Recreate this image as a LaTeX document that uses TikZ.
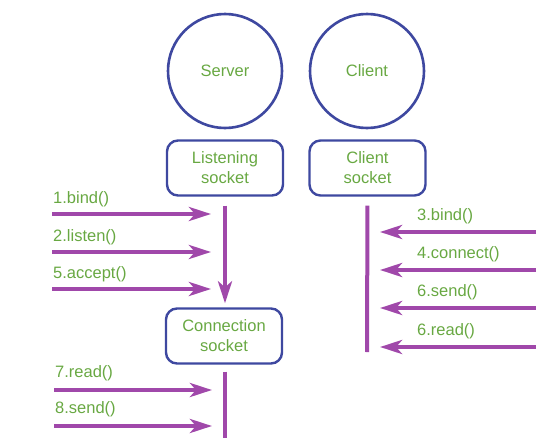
\documentclass[tikz,border=0pt]{standalone}
\usepackage{fontspec}
\setmainfont{Liberation Sans}
\usetikzlibrary{arrows.meta, positioning}

\definecolor{edgeblue}{RGB}{62,72,160}
\definecolor{txtgreen}{RGB}{104,168,66}
\definecolor{callpurple}{RGB}{160,72,170}

\tikzset{
	host/.style={circle, draw=edgeblue, line width=2.6pt, minimum size=114pt, text=txtgreen, font=\fontsize{16.5}{19}\selectfont},
	sockbox/.style={draw=edgeblue, line width=2.4pt, rounded corners=11pt, minimum width=116pt, minimum height=55pt, align=center, text=txtgreen, font=\fontsize{16.5}{20}\selectfont},
	call/.style={-{Stealth[length=22pt, width=14pt, inset=6pt]}, line width=4pt, callpurple},
	lifeline/.style={line width=4pt, callpurple},
	calltext/.style={anchor=west, inner sep=0pt, text=txtgreen, font=\fontsize{16.5}{19}\selectfont}
}

\begin{document}
\begin{tikzpicture}[x=1pt, y=-1pt]
	\useasboundingbox (0,0) rectangle (552,442);

	% Hosts and sockets
	\node[host] (server) at (225,71) {Server};
	\node[host] (client) at (367,71) {Client};
	\node[sockbox] (lsock) at (225,168) {Listening\\socket};
	\node[sockbox] (csock) at (367.5,168) {Client\\socket};
	\node[sockbox] (consock) at (224,336) {Connection\\socket};

	% Lifelines
	\coordinate (cend) at (367,352);
	\coordinate (bend) at (225,438);
	\draw[call, shorten <=9pt, shorten >=4pt] (lsock.south) -- (lsock.south |- consock.north);
	\draw[lifeline, shorten <=9pt] (csock.south) -- (cend);
	\draw[lifeline, shorten <=7pt] (consock.south -| bend) -- (bend);

	% Server calls
	\foreach \y/\txt/\n in {214/1.bind()/a, 252/2.listen()/b, 289/5.accept()/c}{
		\coordinate (s\n) at (52,\y);
		\coordinate (t\n) at (211,\y);
		\draw[call] (s\n) -- (t\n);
		\node[calltext] (l\n) at (53,\y-15) {\txt};
	}
	\foreach \y/\txt/\n in {390/7.read()/d, 426/8.send()/e}{
		\coordinate (s\n) at (54,\y);
		\coordinate (t\n) at (212,\y);
		\draw[call] (s\n) -- (t\n);
		\node[calltext] (l\n) at (55,\y-17) {\txt};
	}

	% Client calls
	\foreach \y/\txt/\n in {232/3.bind()/f, 270/4.connect()/g, 308/6.send()/h, 347/6.read()/i}{
		\coordinate (s\n) at (536,\y);
		\coordinate (t\n) at (380,\y);
		\draw[call] (s\n) -- (t\n);
		\node[calltext] (l\n) at (417,\y-16) {\txt};
	}
\end{tikzpicture}
\end{document}
